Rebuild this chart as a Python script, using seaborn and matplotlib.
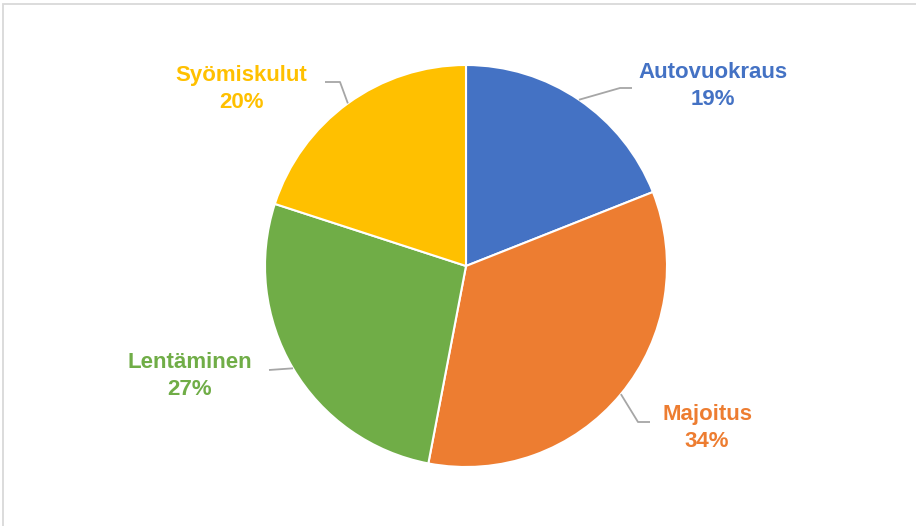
import numpy as np
import seaborn as sns
import matplotlib
matplotlib.use('Agg')
import matplotlib.pyplot as plt

sns.set_theme(style='white')
plt.rcParams['font.family'] = ['Liberation Sans', 'DejaVu Sans']

categories = ['Autovuokraus', 'Majoitus', 'Lentäminen', 'Syömiskulut']
shares = [19, 34, 27, 20]
colors = ['#4472C4', '#ED7D31', '#70AD47', '#FFC000']

W, H = 916, 526
cx, cy, r = 466, H - 266, 201

fig = plt.figure(figsize=(W / 100, H / 100), dpi=100)
ax = fig.add_axes([0, 0, 1, 1])

wedges, _ = ax.pie(shares, colors=colors, startangle=90, counterclock=False,
                   center=(cx, cy), radius=r, frame=True,
                   wedgeprops=dict(edgecolor='white', linewidth=1.5))
ax.set_xlim(0, W)
ax.set_ylim(0, H)
ax.set_aspect('equal')
ax.axis('off')

# label block centres and leader elbows (pixel coords, y down)
label_pos = [(713, 86), (707, 428), (190, 376), (241, 89)]
elbows = [[(620, 88), (632, 88)],
          [(638, 422), (650, 422)],
          [(269, 370)],
          [(340, 82), (325, 82)]]

for w, name, val, col, (lx, ly), elb in zip(wedges, categories, shares, colors, label_pos, elbows):
    mid = np.deg2rad((w.theta1 + w.theta2) / 2)
    sx, sy = cx + r * np.cos(mid), cy + r * np.sin(mid)
    xs = [sx] + [p[0] for p in elb]
    ys = [sy] + [H - p[1] for p in elb]
    ax.plot(xs, ys, color='#A6A6A6', lw=1.3, solid_capstyle='butt')
    ax.text(lx, H - ly, f'{name}\n{val}%', color=col, fontsize=16,
            fontweight='bold', ha='center', va='center', linespacing=1.42)

fig.patches.append(plt.Rectangle((3 / W, -0.1), 1.1, (H - 3.5) / H + 0.1,
                                 transform=fig.transFigure, fill=False,
                                 edgecolor='#D9D9D9', lw=1.3))

plt.savefig('out.png', dpi=100)
